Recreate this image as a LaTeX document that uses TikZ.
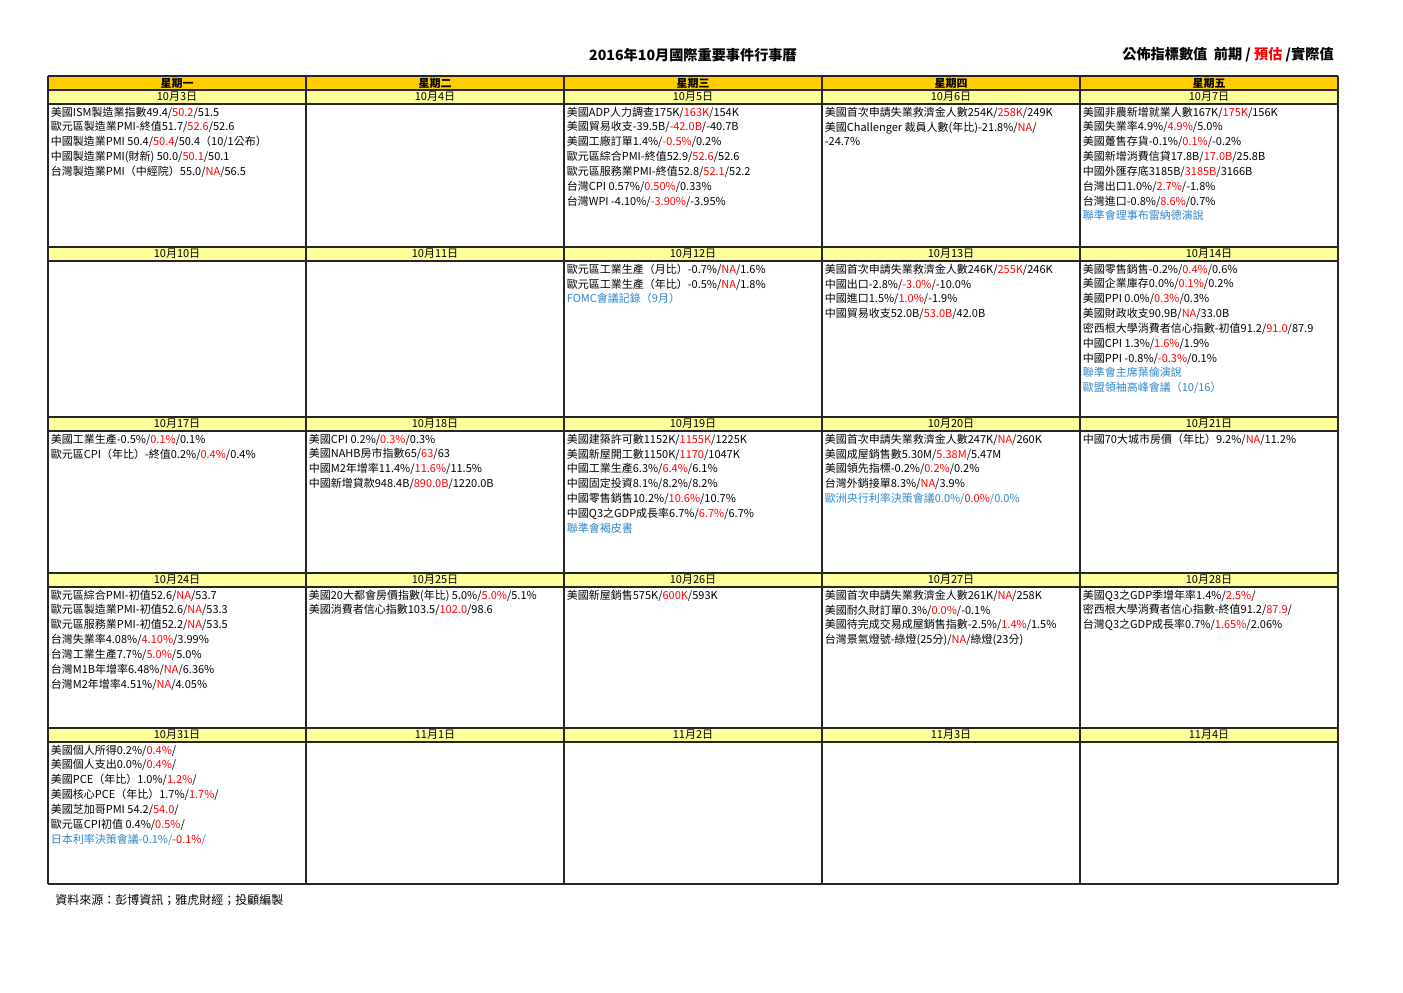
\documentclass[tikz,border=0pt]{standalone}
\usepackage{fontspec}
\setmainfont{Noto Sans CJK TC}
\definecolor{hdrorange}{RGB}{255,204,0}
\definecolor{datefill}{RGB}{255,255,153}
\definecolor{estred}{RGB}{255,0,0}
\definecolor{evtblue}{RGB}{46,134,203}
\newcommand{\est}[1]{{\color{estred}#1}}
\newcommand{\evt}[1]{{\color{evtblue}#1}}
\tikzset{
  entry/.style={anchor=north west, inner sep=0pt, align=left,
    font=\fontsize{6.6}{8.9}\selectfont},
  dayhead/.style={inner sep=0pt, font=\fontsize{6.6}{8}\selectfont\bfseries},
  datelabel/.style={inner sep=0pt, font=\fontsize{6.6}{8}\selectfont},
  gridline/.style={line width=0.75pt, black!85}
}
\begin{document}
\begin{tikzpicture}[x=0.6pt, y=-0.6pt]
  \fill[white] (0, 0) rectangle (1403, 992);
  \useasboundingbox (0, 0) rectangle (1403, 992);

  \node[font=\fontsize{8.5}{10}\selectfont\bfseries] (title) at (693, 55)
    {2016年10月國際重要事件行事曆};
  \node[anchor=east, inner sep=0pt, font=\fontsize{8.5}{10}\selectfont\bfseries]
    (legend) at (1334, 55) {公佈指標數值\ \ 前期 / \est{預估} /實際值};

  % header and date rows
  \fill[hdrorange] (48, 76) rectangle (1338, 90);
  \foreach \ytop in {90, 247, 417, 573, 728}
    \fill[datefill] (48, \ytop) rectangle (1338, \ytop + 14);

  \foreach \name/\day [count=\col from 0] in
      {mon/星期一, tue/星期二, wed/星期三, thu/星期四, fri/星期五}
    \node[dayhead] (\name) at (177 + 258 * \col, 83) {\day};

  \foreach \ytop/\da/\db/\dc/\dd/\de in
      {90/3/4/5/6/7, 247/10/11/12/13/14, 417/17/18/19/20/21, 573/24/25/26/27/28}
    \foreach \d [count=\col from 0] in {\da, \db, \dc, \dd, \de}
      \node[datelabel] (oct\d) at (177 + 258 * \col, \ytop + 7) {10月{\d}日};
  \node[datelabel] (oct31) at (177, 735) {10月31日};
  \foreach \d [count=\col from 1] in {1, 2, 3, 4}
    \node[datelabel] (nov\d) at (177 + 258 * \col, 735) {11月{\d}日};

  % grid
  \foreach \y in {76, 90, 104, 247, 261, 417, 431, 573, 587, 728, 742, 884}
    \draw[gridline] (48, \y) -- (1338, \y);
  \foreach \x in {48, 306, 564, 822, 1080, 1338}
    \draw[gridline] (\x, 76) -- (\x, 884);

  % week 1
  \node[entry] (ev3) at (50.5, 106.5) {%
    美國ISM製造業指數49.4/\est{50.2}/51.5\\
    歐元區製造業PMI-終值51.7/\est{52.6}/52.6\\
    中國製造業PMI 50.4/\est{50.4}/50.4（10/1公布）\\
    中國製造業PMI(財新) 50.0/\est{50.1}/50.1\\
    台灣製造業PMI（中經院）55.0/\est{NA}/56.5};
  \node[entry] (ev5) at (566.5, 106.5) {%
    美國ADP人力調查175K/\est{163K}/154K\\
    美國貿易收支-39.5B/\est{-42.0B}/-40.7B\\
    美國工廠訂單1.4\%/\est{-0.5\%}/0.2\%\\
    歐元區綜合PMI-終值52.9/\est{52.6}/52.6\\
    歐元區服務業PMI-終值52.8/\est{52.1}/52.2\\
    台灣CPI\ 0.57\%/\est{0.50\%}/0.33\%\\
    台灣WPI\ -4.10\%/\est{-3.90\%}/-3.95\%};
  \node[entry] (ev6) at (824.5, 106.5) {%
    美國首次申請失業救濟金人數254K/\est{258K}/249K\\
    美國Challenger 裁員人數(年比)-21.8\%/\est{NA}/\\
    -24.7\%};
  \node[entry] (ev7) at (1082.5, 106.5) {%
    美國非農新增就業人數167K/\est{175K}/156K\\
    美國失業率4.9\%/\est{4.9\%}/5.0\%\\
    美國躉售存貨-0.1\%/\est{0.1\%}/-0.2\%\\
    美國新增消費信貸17.8B/\est{17.0B}/25.8B\\
    中國外匯存底3185B/\est{3185B}/3166B\\
    台灣出口1.0\%/\est{2.7\%}/-1.8\%\\
    台灣進口-0.8\%/\est{8.6\%}/0.7\%\\
    \evt{聯準會理事布雷納德演說}};

  % week 2
  \node[entry] (ev12) at (566.5, 263.5) {%
    歐元區工業生產（月比）-0.7\%/\est{NA}/1.6\%\\
    歐元區工業生產（年比）-0.5\%/\est{NA}/1.8\%\\
    \evt{FOMC會議記錄（9月）}};
  \node[entry] (ev13) at (824.5, 263.5) {%
    美國首次申請失業救濟金人數246K/\est{255K}/246K\\
    中國出口-2.8\%/\est{-3.0\%}/-10.0\%\\
    中國進口1.5\%/\est{1.0\%}/-1.9\%\\
    中國貿易收支52.0B/\est{53.0B}/42.0B};
  \node[entry] (ev14) at (1082.5, 263.5) {%
    美國零售銷售-0.2\%/\est{0.4\%}/0.6\%\\
    美國企業庫存0.0\%/\est{0.1\%}/0.2\%\\
    美國PPI\ 0.0\%/\est{0.3\%}/0.3\%\\
    美國財政收支90.9B/\est{NA}/33.0B\\
    密西根大學消費者信心指數-初值91.2/\est{91.0}/87.9\\
    中國CPI 1.3\%/\est{1.6\%}/1.9\%\\
    中國PPI\ -0.8\%/\est{-0.3\%}/0.1\%\\
    \evt{聯準會主席葉倫演說}\\
    \evt{歐盟領袖高峰會議（10/16）}};

  % week 3
  \node[entry] (ev17) at (50.5, 433.5) {%
    美國工業生產-0.5\%/\est{0.1\%}/0.1\%\\
    歐元區CPI（年比）-終值0.2\%/\est{0.4\%}/0.4\%};
  \node[entry] (ev18) at (308.5, 433.5) {%
    美國CPI\ 0.2\%/\est{0.3\%}/0.3\%\\
    美國NAHB房市指數65/\est{63}/63\\
    中國M2年增率11.4\%/\est{11.6\%}/11.5\%\\
    中國新增貸款948.4B/\est{890.0B}/1220.0B};
  \node[entry] (ev19) at (566.5, 433.5) {%
    美國建築許可數1152K/\est{1155K}/1225K\\
    美國新屋開工數1150K/\est{1170}/1047K\\
    中國工業生產6.3\%/\est{6.4\%}/6.1\%\\
    中國固定投資8.1\%/8.2\%/8.2\%\\
    中國零售銷售10.2\%/\est{10.6\%}/10.7\%\\
    中國Q3之GDP成長率6.7\%/\est{6.7\%}/6.7\%\\
    \evt{聯準會褐皮書}};
  \node[entry] (ev20) at (824.5, 433.5) {%
    美國首次申請失業救濟金人數247K/\est{NA}/260K\\
    美國成屋銷售數5.30M/\est{5.38M}/5.47M\\
    美國領先指標-0.2\%/\est{0.2\%}/0.2\%\\
    台灣外銷接單8.3\%/\est{NA}/3.9\%\\
    \evt{歐洲央行利率決策會議0.0\%/}\est{0.0\%}\evt{/0.0\%}};
  \node[entry] (ev21) at (1082.5, 433.5) {%
    中國70大城市房價（年比）9.2\%/\est{NA}/11.2\%};

  % week 4
  \node[entry] (ev24) at (50.5, 589.5) {%
    歐元區綜合PMI-初值52.6/\est{NA}/53.7\\
    歐元區製造業PMI-初值52.6/\est{NA}/53.3\\
    歐元區服務業PMI-初值52.2/\est{NA}/53.5\\
    台灣失業率4.08\%/\est{4.10\%}/3.99\%\\
    台灣工業生產7.7\%/\est{5.0\%}/5.0\%\\
    台灣M1B年增率6.48\%/\est{NA}/6.36\%\\
    台灣M2年增率4.51\%/\est{NA}/4.05\%};
  \node[entry] (ev25) at (308.5, 589.5) {%
    美國20大都會房價指數(年比) 5.0\%/\est{5.0\%}/5.1\%\\
    美國消費者信心指數103.5/\est{102.0}/98.6};
  \node[entry] (ev26) at (566.5, 589.5) {%
    美國新屋銷售575K/\est{600K}/593K};
  \node[entry] (ev27) at (824.5, 589.5) {%
    美國首次申請失業救濟金人數261K/\est{NA}/258K\\
    美國耐久財訂單0.3\%/\est{0.0\%}/-0.1\%\\
    美國待完成交易成屋銷售指數-2.5\%/\est{1.4\%}/1.5\%\\
    台灣景氣燈號-綠燈(25分)/\est{NA}/綠燈(23分)};
  \node[entry] (ev28) at (1082.5, 589.5) {%
    美國Q3之GDP季增年率1.4\%/\est{2.5\%}/\\
    密西根大學消費者信心指數-終值91.2/\est{87.9}/\\
    台灣Q3之GDP成長率0.7\%/\est{1.65\%}/2.06\%};

  % week 5
  \node[entry] (ev31) at (50.5, 744.5) {%
    美國個人所得0.2\%/\est{0.4\%}/\\
    美國個人支出0.0\%/\est{0.4\%}/\\
    美國PCE（年比）1.0\%/\est{1.2\%}/\\
    美國核心PCE（年比）1.7\%/\est{1.7\%}/\\
    美國芝加哥PMI\ 54.2/\est{54.0}/\\
    歐元區CPI初值\ 0.4\%/\est{0.5\%}/\\
    \evt{日本利率決策會議-0.1\%/}\est{-0.1\%}\evt{/}};

  \node[anchor=west, inner sep=0pt, font=\fontsize{7.2}{8}\selectfont]
    (source) at (55, 900) {資料來源：彭博資訊；雅虎財經；投顧編製};
\end{tikzpicture}
\end{document}
